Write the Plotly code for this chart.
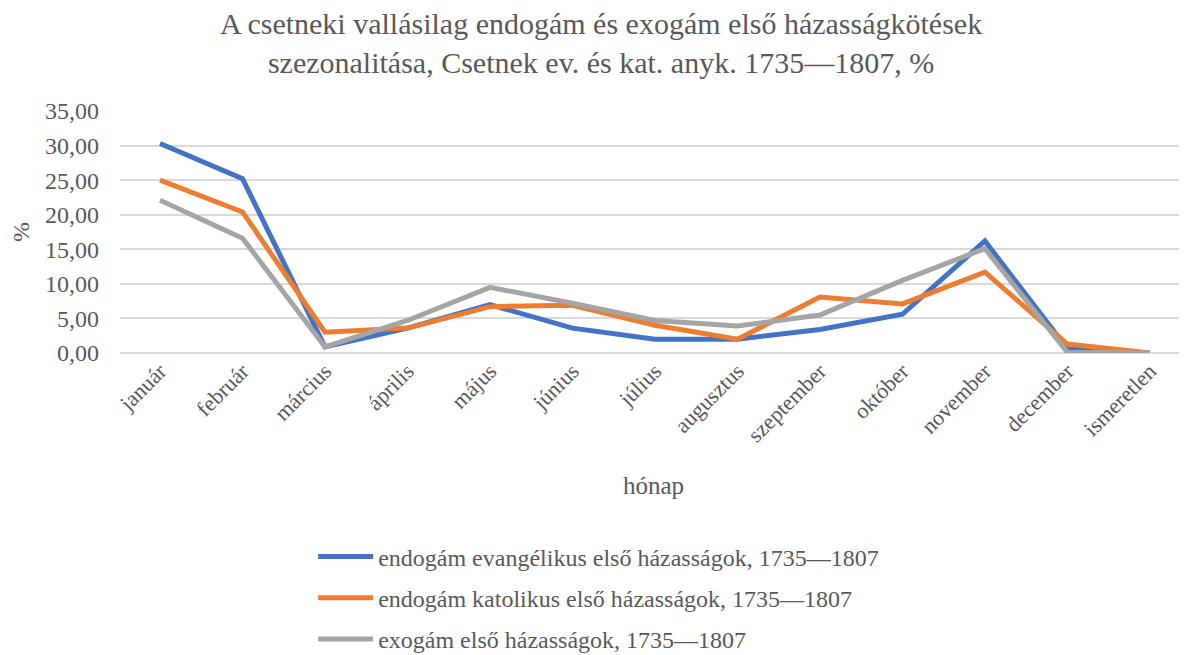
import plotly.graph_objects as go

MONTHS = ["január", "február", "március", "április", "május", "június", "július",
          "augusztus", "szeptember", "október", "november", "december", "ismeretlen"]

EVANG = [30.3, 25.2, 0.9, 3.6, 7.0, 3.6, 2.0, 2.0, 3.4, 5.6, 16.2, 0.6, 0.0]
KATOL = [25.0, 20.4, 3.0, 3.6, 6.7, 6.9, 4.0, 2.0, 8.1, 7.1, 11.7, 1.3, 0.0]
EXOG = [22.1, 16.6, 0.9, 4.7, 9.5, 7.2, 4.7, 3.9, 5.5, 10.5, 15.1, 0.1, 0.0]

NAMES = [
    "endogám evangélikus első házasságok, 1735—1807",
    "endogám katolikus első házasságok, 1735—1807",
    "exogám első házasságok, 1735—1807",
]
COLORS = ["#4472C4", "#ED7D31", "#A5A5A5"]
TEXT = "#595959"
FONT = "Liberation Serif, Times New Roman, serif"

fig = go.Figure()
for i, (name, vals, color) in enumerate(zip(NAMES, [EVANG, KATOL, EXOG], COLORS)):
    fig.add_trace(go.Scatter(
        x=MONTHS, y=vals, name=name, mode="lines",
        line={"color": color, "width": 5},
        legendgroup=str(i),
    ))

# the page body has an 8px margin, so the figure is 8px smaller than the window
fig.update_layout(
    width=1179,
    height=647,
    paper_bgcolor="white",
    plot_bgcolor="white",
    separators=", ",
    font={"family": FONT, "color": TEXT, "size": 18},
    title={
        "text": "A csetneki vallásilag endogám és exogám első házasságkötések<br>"
                "szezonalitása, Csetnek ev. és kat. anyk. 1735—1807, %",
        "x": 0.503,
        "xanchor": "center",
        "y": 0.96,
        "yanchor": "top",
        "font": {"size": 30, "color": TEXT},
    },
    margin={"l": 112, "r": 0, "t": 103, "b": 302, "autoexpand": False},
    showlegend=True,
    legend={
        "x": 0.181,
        "y": -0.75,
        "xanchor": "left",
        "yanchor": "top",
        "font": {"size": 24, "color": TEXT},
        "tracegroupgap": 7,
        "itemwidth": 55,
        "bgcolor": "rgba(0,0,0,0)",
    },
)

fig.update_xaxes(
    range=[-0.485, 12.45],
    tickangle=-45,
    tickfont={"size": 22, "color": TEXT},
    showgrid=False,
    showline=False,
    ticks="",
    title={"text": "hónap", "font": {"size": 25, "color": TEXT}, "standoff": 30},
)
fig.update_yaxes(
    range=[0, 35],
    dtick=5,
    tickformat=".2f",
    gridcolor="#D9D9D9",
    gridwidth=1.5,
    zeroline=True,
    zerolinecolor="#D9D9D9",
    zerolinewidth=1.5,
    showline=False,
    ticks="",
    ticklabelstandoff=20,
    tickfont={"size": 24, "color": TEXT},
    title={"text": "%", "font": {"size": 24, "color": TEXT}, "standoff": 12},
)

fig.write_html("out.html")
